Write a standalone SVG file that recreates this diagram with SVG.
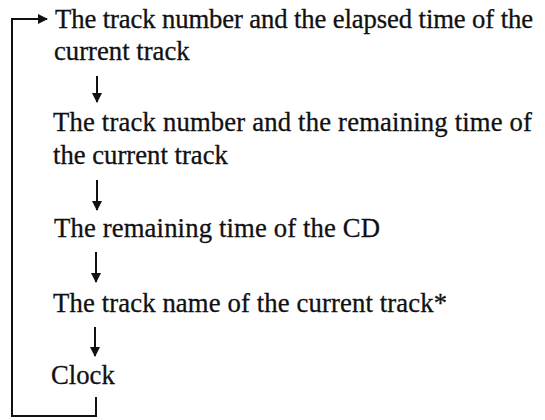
<svg xmlns="http://www.w3.org/2000/svg" width="545" height="420" viewBox="0 0 545 420">
<defs>
<style>
.t{font-family:"Liberation Serif","Times New Roman",serif;font-size:26.7px;fill:#111111;stroke:#111111;stroke-width:0.3}
.c{stroke:#111111;stroke-width:2;fill:none}
</style>
<marker id="ah" viewBox="0 0 10 10" refX="9" refY="5" markerWidth="5" markerHeight="5" orient="auto" markerUnits="strokeWidth">
<path d="M0,0 L10,5 L0,10 Z" fill="#111111"/>
</marker>
</defs>
<rect width="545" height="420" fill="#ffffff"/>
<g id="n1"><text class="t" x="55" y="28" textLength="478" lengthAdjust="spacing">The track number and the elapsed time of the</text><text class="t" x="54" y="60">current track</text></g>
<g id="n2"><text class="t" x="53" y="131" textLength="479" lengthAdjust="spacing">The track number and the remaining time of</text><text class="t" x="53" y="164">the current track</text></g>
<g id="n3"><text class="t" x="54" y="237" textLength="326" lengthAdjust="spacing">The remaining time of the CD</text></g>
<g id="n4"><text class="t" x="53" y="312" textLength="394" lengthAdjust="spacing">The track name of the current track*</text></g>
<g id="n5"><text class="t" x="51" y="384">Clock</text></g>
<g id="connectors">
<line class="c" x1="97" y1="76" x2="97" y2="102" marker-end="url(#ah)"/>
<line class="c" x1="97" y1="180" x2="97" y2="210" marker-end="url(#ah)"/>
<line class="c" x1="96" y1="252" x2="96" y2="282" marker-end="url(#ah)"/>
<line class="c" x1="95" y1="327" x2="95" y2="356" marker-end="url(#ah)"/>
<polyline class="c" points="96,397 96,416 12,416 12,19 47,19" marker-end="url(#ah)"/>
</g>
</svg>
